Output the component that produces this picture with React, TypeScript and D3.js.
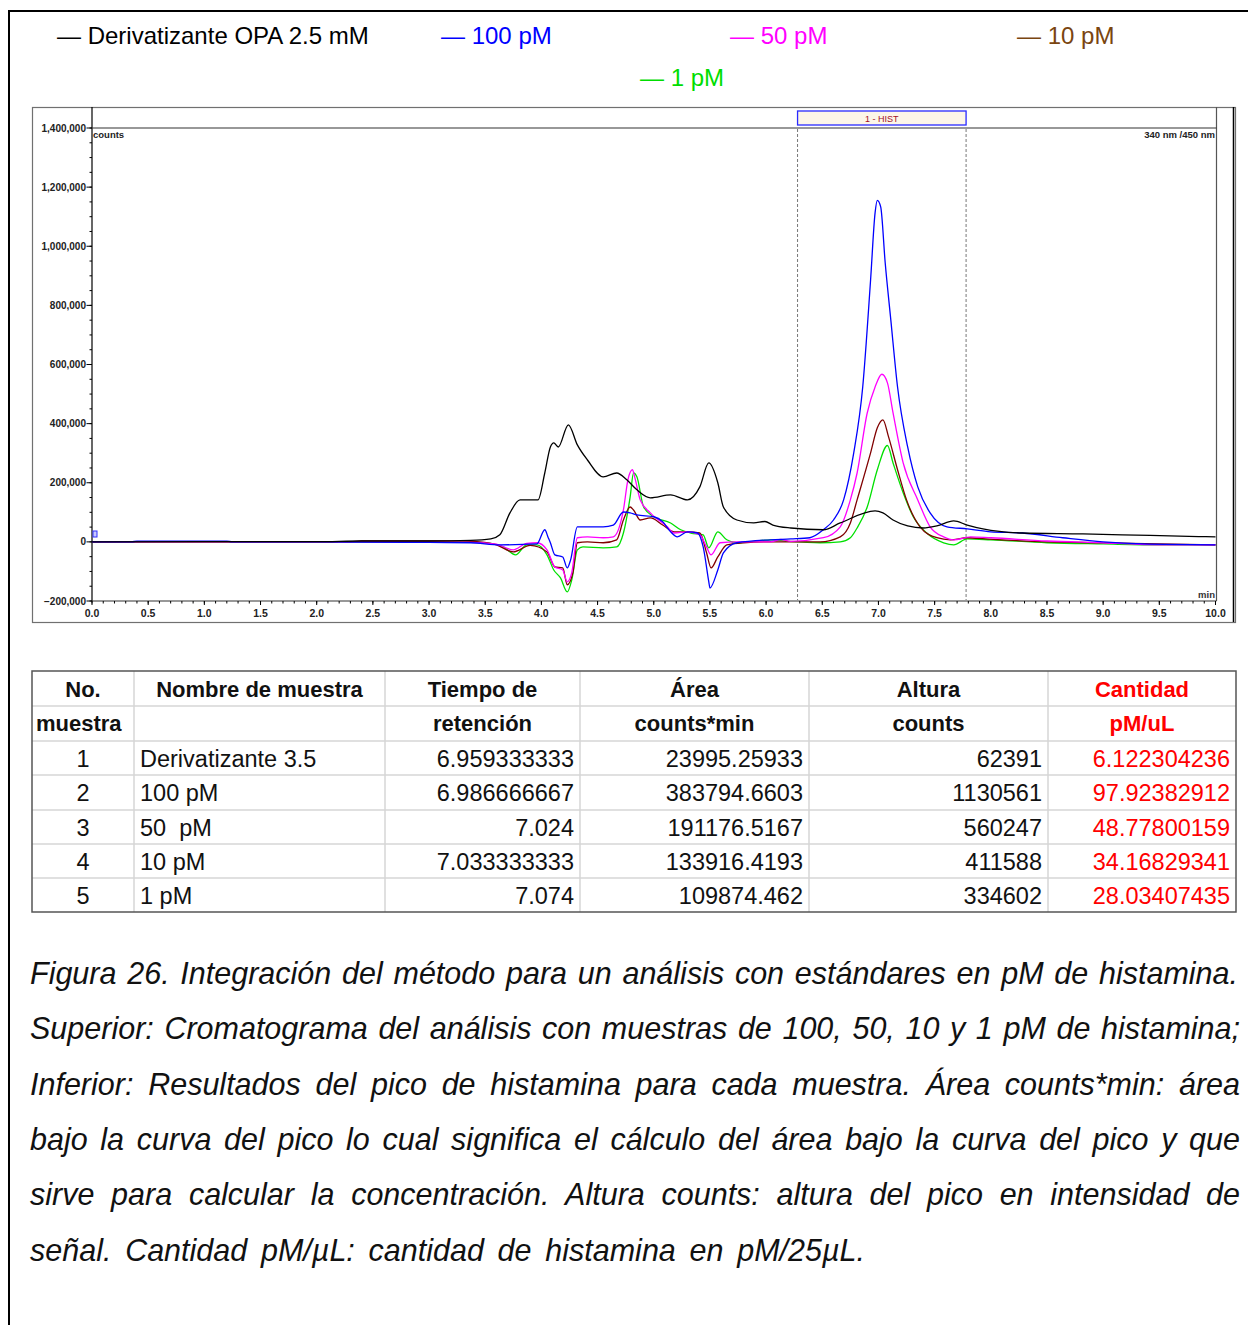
import React, { useLayoutEffect, useRef } from "react";
import * as d3 from "d3";

// ---------- DATA ----------
type Pt = [number, number];

const blackData: Pt[] = [
  [0, 0], [1, 1000], [2, 1000], [2.4, 3000], [3.0, 3000], [3.37, 5000], [3.55, 10000], [3.63, 24000],
  [3.72, 98000], [3.81, 142000], [3.97, 142000], [4.03, 233000], [4.08, 321000], [4.11, 335000],
  [4.15, 321000], [4.24, 396000], [4.32, 328000], [4.41, 277000], [4.55, 220000], [4.67, 233000],
  [4.76, 210000], [4.85, 176000], [4.97, 149000], [5.15, 159000], [5.3, 142000], [5.41, 186000],
  [5.49, 267000], [5.57, 200000], [5.62, 118000], [5.74, 74000], [5.89, 64000], [5.99, 69000],
  [6.06, 57000], [6.22, 47000], [6.51, 41000], [6.66, 64000], [6.97, 105000], [7.04, 98000],
  [7.13, 74000], [7.26, 54000], [7.4, 47000], [7.52, 54000], [7.67, 71000], [7.79, 57000],
  [7.93, 44000], [8.28, 30000], [8.82, 27000], [9.17, 24000], [9.85, 18000], [10, 17000],
];

const blueData: Pt[] = [
  [0, 0], [0.35, 0], [0.4, 2500], [1.2, 2500], [1.25, 0], [2, 0], [3.0, -2000], [3.37, -3000],
  [3.63, -10000], [3.96, -7000], [4.03, 41000], [4.06, 15000], [4.08, -3000], [4.12, -44000],
  [4.19, -51000], [4.23, -88000], [4.26, -61000], [4.32, 51000], [4.37, 51000], [4.55, 51000],
  [4.64, 57000], [4.73, 101000], [4.79, 98000], [4.85, 91000], [5.0, 85000], [5.08, 68000],
  [5.15, 34000], [5.21, 17000], [5.3, 34000], [5.39, 30000], [5.44, -17000], [5.49, -135000],
  [5.5, -156000], [5.57, -95000], [5.62, -37000], [5.74, -3000], [6.04, 7000], [6.22, 10000],
  [6.39, 14000], [6.51, 41000], [6.6, 74000], [6.69, 142000], [6.78, 301000], [6.86, 524000],
  [6.93, 886000], [6.97, 1113000], [6.99, 1155000], [7.02, 1133000], [7.06, 944000], [7.11, 751000],
  [7.17, 524000], [7.26, 321000], [7.35, 186000], [7.46, 98000], [7.61, 51000], [7.79, 44000],
  [8.0, 34000], [8.28, 30000], [8.64, 14000], [9.0, 0], [9.35, -7000], [10, -10000],
];

const magentaData: Pt[] = [
  [0, 0], [2, 0], [3.37, -2000], [3.6, -8000], [3.75, -27000], [3.87, -5000], [3.96, -3000],
  [4.05, -27000], [4.12, -85000], [4.19, -95000], [4.23, -135000], [4.27, -105000], [4.32, 14000],
  [4.41, 17000], [4.55, 14000], [4.64, 17000], [4.73, 108000], [4.77, 210000], [4.81, 244000],
  [4.83, 220000], [4.88, 142000], [4.97, 98000], [5.12, 51000], [5.18, 30000], [5.3, 34000],
  [5.41, 24000], [5.47, -17000], [5.51, -44000], [5.59, -3000], [5.74, 0], [6.04, 0], [6.13, 8000],
  [6.22, 2000], [6.51, 14000], [6.66, 51000], [6.75, 142000], [6.81, 233000], [6.9, 436000],
  [6.97, 524000], [7.03, 567000], [7.08, 538000], [7.13, 436000], [7.22, 267000], [7.35, 142000],
  [7.46, 51000], [7.58, 17000], [7.67, 7000], [7.82, 17000], [8.0, 14000], [8.5, 3000],
  [9.0, -3000], [9.5, -10000], [10, -10000],
];

const brownData: Pt[] = [
  [0, 0], [2.3, 0], [2.4, 3000], [3.3, 3000], [3.45, 0], [3.6, -10000], [3.75, -34000],
  [3.9, -12000], [4.05, -34000], [4.12, -85000], [4.19, -88000], [4.23, -145000], [4.28, -105000],
  [4.32, -3000], [4.41, 0], [4.55, -3000], [4.67, 7000], [4.73, 74000], [4.79, 118000],
  [4.82, 108000], [4.88, 74000], [4.97, 81000], [5.08, 57000], [5.18, 34000], [5.3, 34000],
  [5.41, 30000], [5.47, -37000], [5.51, -88000], [5.57, -51000], [5.65, -10000], [5.8, -3000],
  [6.04, 0], [6.2, 0], [6.48, 0], [6.66, 17000], [6.75, 64000], [6.81, 142000], [6.93, 301000],
  [6.99, 386000], [7.04, 413000], [7.09, 355000], [7.17, 244000], [7.25, 142000], [7.37, 51000],
  [7.52, 14000], [7.64, 7000], [7.79, 14000], [7.95, 10000], [8.5, 0], [9.0, -3000],
  [9.5, -7000], [10, -10000],
];

const greenData: Pt[] = [
  [0, 0], [3.37, -2000], [3.55, -5000], [3.66, -17000], [3.77, -44000], [3.87, -10000],
  [3.96, -10000], [4.05, -44000], [4.11, -95000], [4.17, -122000], [4.23, -169000],
  [4.27, -129000], [4.32, -27000], [4.37, -17000], [4.55, -20000], [4.67, -17000], [4.73, 30000],
  [4.79, 152000], [4.82, 233000], [4.85, 220000], [4.91, 118000], [5.0, 85000], [5.15, 64000],
  [5.24, 41000], [5.33, 30000], [5.44, 24000], [5.49, -20000], [5.57, 34000], [5.65, 7000],
  [5.74, -3000], [6.04, 7000], [6.2, 2000], [6.48, -3000], [6.66, 0], [6.75, 14000],
  [6.81, 47000], [6.9, 118000], [6.99, 244000], [7.08, 326000], [7.13, 267000], [7.22, 166000],
  [7.31, 85000], [7.43, 30000], [7.58, -3000], [7.67, -10000], [7.79, 10000], [8.0, 7000],
  [8.5, -3000], [9.0, -7000], [9.5, -10000], [10, -10000],
];

const seriesNames = ["Derivatizante OPA 2.5 mM", "100 pM", "50 pM", "10 pM", "1 pM"];
const lineColors = ["#000000", "#0000ff", "#ff00ff", "#800000", "#00e000"];
const legendColors = ["#000000", "#0000ff", "#ff00ff", "#7a4510", "#00dd00"];

const histWindow: [number, number] = [6.28, 7.78];
const histLabel = "1 - HIST";

const tableHeader1 = ["No.", "Nombre de muestra", "Tiempo de", "Área", "Altura", "Cantidad"];
const tableHeader2 = ["muestra", "", "retención", "counts*min", "counts", "pM/uL"];
const sampleNo = ["1", "2", "3", "4", "5"];
const sampleName = ["Derivatizante 3.5", "100 pM", "50  pM", "10 pM", "1 pM"];
const retention = ["6.959333333", "6.986666667", "7.024", "7.033333333", "7.074"];
const area = ["23995.25933", "383794.6603", "191176.5167", "133916.4193", "109874.462"];
const height = ["62391", "1130561", "560247", "411588", "334602"];
const amount = ["6.122304236", "97.92382912", "48.77800159", "34.16829341", "28.03407435"];

const captionLines = [
  "Figura 26. Integración del método para un análisis con estándares en pM de histamina.",
  "Superior: Cromatograma del análisis con muestras de 100, 50, 10 y 1 pM de histamina;",
  "Inferior: Resultados del pico de histamina para cada muestra. Área counts*min: área",
  "bajo la curva del pico lo cual significa el cálculo del área bajo la curva del pico y que",
  "sirve para calcular la concentración. Altura counts: altura del pico en intensidad de",
  "señal. Cantidad pM/µL: cantidad de histamina en pM/25µL.",
];
const captionWidths = [1208, 1210, 1210, 1210, 1210, 835];

// ---------- LAYOUT ----------
const W = 1248;
const H = 1325;
const FONT = "'Liberation Sans', Arial, sans-serif";

export default function App() {
  const capRefs = useRef<(SVGTextElement | null)[]>([]);

  useLayoutEffect(() => {
    capRefs.current.forEach((el, i) => {
      if (!el) return;
      el.setAttribute("word-spacing", "0");
      const w = el.getComputedTextLength();
      const spaces = (captionLines[i].match(/ /g) || []).length;
      if (spaces > 0) el.setAttribute("word-spacing", String((captionWidths[i] - w) / spaces));
    });
  }, []);

  const x = d3.scaleLinear().domain([0, 10]).range([92, 1215.5]);
  const y = d3.scaleLinear().domain([-200000, 1400000]).range([601, 128]);

  const line = d3
    .line<Pt>()
    .x((d) => x(d[0]))
    .y((d) => y(d[1]))
    .curve(d3.curveMonotoneX);

  const allSeries = [blackData, blueData, magentaData, brownData, greenData];
  const drawOrder = [4, 3, 2, 1, 0];

  const yMajor = d3.range(-200000, 1400001, 200000);
  const yMinor = d3.range(-200000, 1400001, 50000);
  const xMajor = d3.range(0, 10.001, 0.5);
  const xMinor = d3.range(0, 100.5, 1).map((d) => d / 10);
  const fmtY = d3.format(",");
  const fmtX = d3.format(".1f");

  const colX = [32, 134, 385, 580, 809, 1048, 1236];
  const rowY = [671, 706, 741, 775, 810, 844, 878, 912];
  const cx = (i: number) => (colX[i] + colX[i + 1]) / 2;

  const legendItems = [
    { i: 0, x: 57, y: 44 },
    { i: 1, x: 441, y: 44 },
    { i: 2, x: 730, y: 44 },
    { i: 3, x: 1017, y: 44 },
    { i: 4, x: 640, y: 86 },
  ];

  const dataCols = [
    { vals: sampleNo, anchor: "middle", x: cx(0), color: "#111" },
    { vals: sampleName, anchor: "start", x: 140, color: "#111" },
    { vals: retention, anchor: "end", x: 574, color: "#111" },
    { vals: area, anchor: "end", x: 803, color: "#111" },
    { vals: height, anchor: "end", x: 1042, color: "#111" },
    { vals: amount, anchor: "end", x: 1230, color: "#ff0000" },
  ];

  return (
    <svg
      width={W}
      height={H}
      style={{ position: "absolute", left: 0, top: 0, background: "#fff" }}
      fontFamily={FONT}
    >
      <rect x={0} y={0} width={W} height={H} fill="#fff" />
      <line x1={9} y1={10} x2={9} y2={H} stroke="#000" strokeWidth={2} />
      <line x1={8} y1={11} x2={W} y2={11} stroke="#000" strokeWidth={2} />

      {legendItems.map((l) => (
        <text key={l.i} x={l.x} y={l.y} fontSize={24} fill={legendColors[l.i]} xmlSpace="preserve">
          {"— " + seriesNames[l.i]}
        </text>
      ))}

      <rect x={32.5} y={107.5} width={1203} height={515} fill="#fff" stroke="#707070" strokeWidth={1.2} />
      <line x1={1233.5} y1={107} x2={1233.5} y2={622} stroke="#000" strokeWidth={1.5} />
      <line x1={92} y1={107} x2={92} y2={601} stroke="#000" strokeWidth={1.2} />
      <line x1={1216.5} y1={107} x2={1216.5} y2={601} stroke="#555" strokeWidth={1.2} />
      <line x1={92} y1={128} x2={1216.5} y2={128} stroke="#333" strokeWidth={1.2} />
      <line x1={92} y1={601} x2={1216.5} y2={601} stroke="#333" strokeWidth={1.2} />

      {yMinor.map((v) => (
        <line key={"ym" + v} x1={89.5} x2={92} y1={y(v)} y2={y(v)} stroke="#000" strokeWidth={1} />
      ))}
      {yMajor.map((v) => (
        <g key={"yM" + v}>
          <line x1={86.5} x2={92} y1={y(v)} y2={y(v)} stroke="#000" strokeWidth={1} />
          <text x={86} y={y(v)} dy="0.35em" textAnchor="end" fontSize={10} fontWeight="bold" fill="#222">
            {fmtY(v)}
          </text>
        </g>
      ))}

      {xMinor.map((v) => (
        <line key={"xm" + v} x1={x(v)} x2={x(v)} y1={601} y2={603.5} stroke="#000" strokeWidth={1} />
      ))}
      {xMajor.map((v) => (
        <g key={"xM" + v}>
          <line x1={x(v)} x2={x(v)} y1={601} y2={605} stroke="#000" strokeWidth={1} />
          <text x={x(v)} y={617} textAnchor="middle" fontSize={10.5} fontWeight="bold" fill="#222">
            {fmtX(v)}
          </text>
        </g>
      ))}

      <text x={93} y={138} fontSize={9.5} fontWeight="bold" fill="#222">counts</text>
      <text x={1215} y={138} textAnchor="end" fontSize={9.5} fontWeight="bold" fill="#222">340 nm /450 nm</text>
      <text x={1215} y={598} textAnchor="end" fontSize={9.5} fontWeight="bold" fill="#333">min</text>

      {histWindow.map((t) => (
        <line key={"hw" + t} x1={x(t)} x2={x(t)} y1={129} y2={600} stroke="#777" strokeWidth={1} strokeDasharray="3,2" />
      ))}
      <rect
        x={x(histWindow[0])}
        y={111}
        width={x(histWindow[1]) - x(histWindow[0])}
        height={14}
        fill="#fdf6e8"
        stroke="#2a2aff"
        strokeWidth={1.3}
      />
      <text
        x={(x(histWindow[0]) + x(histWindow[1])) / 2}
        y={121.5}
        textAnchor="middle"
        fontSize={9}
        fill="#a0102a"
      >
        {histLabel}
      </text>

      <rect x={93} y={531} width={4} height={6} fill="#c8c8ff" stroke="#3030ff" strokeWidth={1} />

      {drawOrder.map((i) => (
        <path key={"s" + i} d={line(allSeries[i]) || ""} fill="none" stroke={lineColors[i]} strokeWidth={1.3} />
      ))}

      <g>
        {rowY.slice(1, -1).map((ry) => (
          <line key={"tr" + ry} x1={32} x2={1236} y1={ry} y2={ry} stroke="#d6d6d6" strokeWidth={1.5} />
        ))}
        {colX.slice(1, -1).map((c) => (
          <line key={"tc" + c} x1={c} x2={c} y1={671} y2={912} stroke="#d6d6d6" strokeWidth={1.5} />
        ))}
        <rect x={32} y={671} width={1204} height={241} fill="none" stroke="#555" strokeWidth={1.5} />

        {tableHeader1.map((h, i) => (
          <text
            key={"h1" + i}
            x={cx(i)}
            y={697}
            textAnchor="middle"
            fontSize={22}
            fontWeight="bold"
            fill={i === 5 ? "#ff0000" : "#111"}
          >
            {h}
          </text>
        ))}
        {tableHeader2.map((h, i) => (
          <text
            key={"h2" + i}
            x={i === 0 ? 36 : cx(i)}
            y={731}
            textAnchor={i === 0 ? "start" : "middle"}
            fontSize={22}
            fontWeight="bold"
            fill={i === 5 ? "#ff0000" : "#111"}
          >
            {h}
          </text>
        ))}
        {dataCols.map((col, ci) =>
          col.vals.map((v, ri) => (
            <text
              key={"d" + ci + "-" + ri}
              x={col.x}
              y={(rowY[ri + 2] + rowY[ri + 3]) / 2 + 8.5}
              textAnchor={col.anchor as any}
              fontSize={23.5}
              fill={col.color}
              xmlSpace="preserve"
            >
              {v}
            </text>
          ))
        )}
      </g>

      {captionLines.map((t, i) => (
        <text
          key={"cap" + i}
          ref={(el) => {
            capRefs.current[i] = el;
          }}
          x={30}
          y={984 + i * 55.3}
          fontSize={30.5}
          fontStyle="italic"
          fill="#111"
        >
          {t}
        </text>
      ))}
    </svg>
  );
}
